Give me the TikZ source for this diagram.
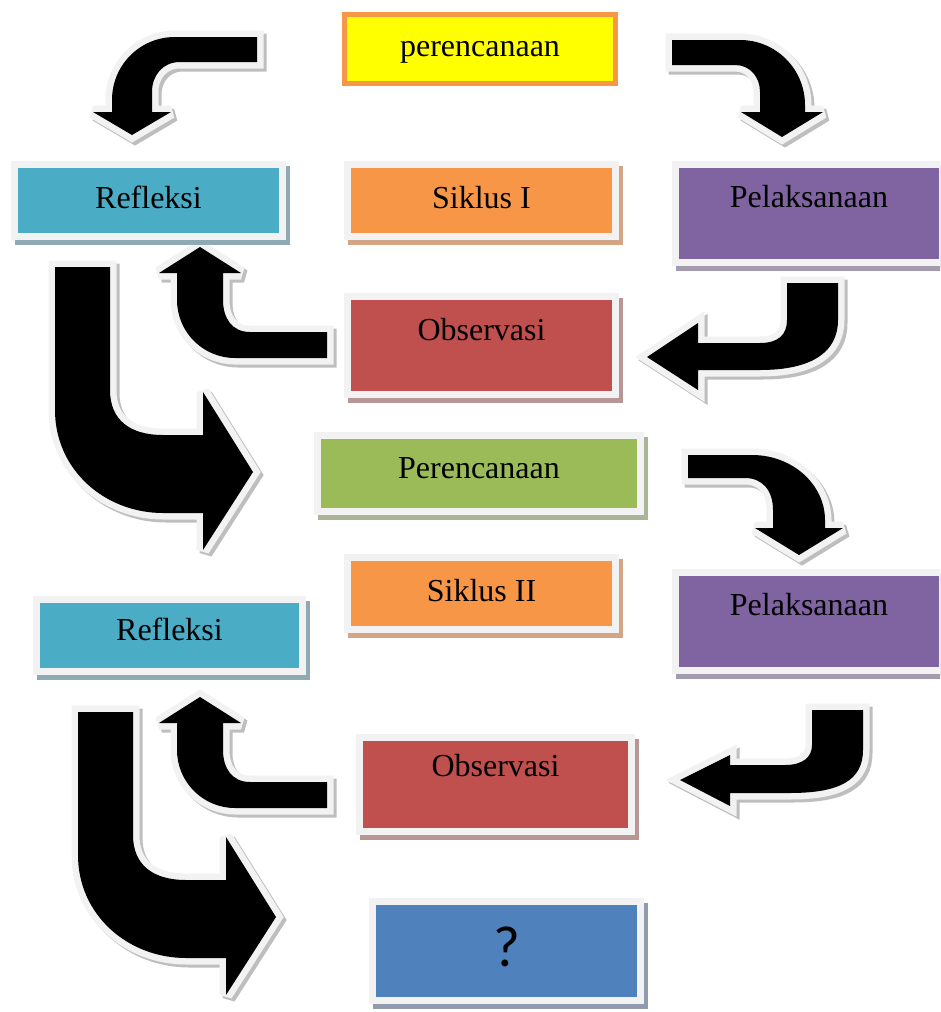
\documentclass[tikz,border=0pt]{standalone}
\usepackage{fontspec}
\setmainfont{Liberation Serif}
\newfontfamily\qfont{Carlito}
\usepackage{xcolor}
\usepackage{tikz}
\usetikzlibrary{positioning}
\definecolor{rimgray}{RGB}{242,242,242}
\definecolor{arrowshade}{RGB}{190,190,190}
\definecolor{yellowfill}{RGB}{255,255,0}
\definecolor{orangerim}{RGB}{247,150,70}
\definecolor{reflcolor}{RGB}{75,172,198}
\definecolor{reflshadow}{RGB}{143,170,180}
\definecolor{cyclecolor}{RGB}{247,150,70}
\definecolor{cycleshadow}{RGB}{212,165,132}
\definecolor{actcolor}{RGB}{128,100,162}
\definecolor{actshadow}{RGB}{165,155,175}
\definecolor{obscolor}{RGB}{192,80,77}
\definecolor{obsshadow}{RGB}{185,150,150}
\definecolor{plancolor}{RGB}{155,187,89}
\definecolor{planshadow}{RGB}{170,180,150}
\definecolor{resultcolor}{RGB}{79,129,189}
\definecolor{resultshadow}{RGB}{145,155,175}
% block arrow: shadow, rim, black body
\newcommand{\flowarrow}[2][]{%
  \filldraw[arrowshadow, shift={(3,3)}, #1] #2;
  \filldraw[arrowrim, #1] #2;
  \fill[black, #1] #2;
}

\begin{document}
\begin{tikzpicture}[
    x=1pt, y=-1pt,
    stage/.style={draw=rimgray, line width=7pt, inner sep=0pt, outer sep=0pt, minimum width=268pt, minimum height=72pt, text height=22pt, text depth=7pt, font=\fontsize{32pt}{38pt}\selectfont},
    boxshadow/.style={preaction={fill=#1, draw=#1, line width=7pt, transform canvas={xshift=4pt, yshift=-5pt}}},
    arrowshadow/.style={fill=arrowshade, draw=arrowshade, line width=13pt, miter limit=2.5},
    arrowrim/.style={fill=rimgray, draw=rimgray, line width=13pt, miter limit=2.5}
]
    \useasboundingbox (0,0) rectangle (940,1012);
    \clip (0,0) rectangle (940,1012);

    % Arrows, cycle I
    \flowarrow{(257,37) -- (175,37) .. controls (140,37) and (112,65) .. (112,100) -- (112,112) -- (93,112) -- (132,135) -- (171,112) -- (152,112) -- (152,92) .. controls (152,75) and (163,62) .. (180,62) -- (257,62) -- cycle}
    \flowarrow{(672,40) -- (740,40) .. controls (776,40) and (805,69) .. (805,105) -- (805,112) -- (823,112) -- (782,137) -- (741,112) -- (760,112) -- (760,92) .. controls (760,77) and (750,65) .. (735,65) -- (672,65) -- cycle}
    \flowarrow{(327,358) -- (235,358) .. controls (203,358) and (177,332) .. (177,300) -- (177,273) -- (159,273) -- (200,247) -- (241,273) -- (223,273) -- (223,300) .. controls (223,318) and (232,332) .. (250,332) -- (327,332) -- cycle}
    \flowarrow{(838,283) -- (838,320) .. controls (838,352) and (812,370) .. (760,370) -- (698,370) -- (698,390) -- (647,357) -- (698,323) -- (698,343) -- (760,343) .. controls (778,343) and (787,335) .. (787,320) -- (787,283) -- cycle}
    \flowarrow{(55,267) -- (55,410) .. controls (55,470) and (105,513) .. (163,513) -- (203,513) -- (203,550) -- (253,472) -- (203,392) -- (203,435) -- (163,435) .. controls (130,435) and (110,420) .. (110,390) -- (110,267) -- cycle}

    % Arrows, cycle II
    \flowarrow{(688,455) -- (752,455) .. controls (793,455) and (825,485) .. (825,520) -- (825,528) -- (843,528) -- (799,555) -- (755,528) -- (773,528) -- (773,510) .. controls (773,490) and (762,478) .. (745,478) -- (688,478) -- cycle}
    \flowarrow{(863,710) -- (863,750) .. controls (863,780) and (840,793) .. (790,793) -- (730,793) -- (730,806) -- (680,780) -- (730,755) -- (730,765) -- (785,765) .. controls (803,765) and (812,757) .. (812,745) -- (812,710) -- cycle}
    \flowarrow[shift={(0,450)}]{(327,358) -- (235,358) .. controls (203,358) and (177,332) .. (177,300) -- (177,273) -- (159,273) -- (200,247) -- (241,273) -- (223,273) -- (223,300) .. controls (223,318) and (232,332) .. (250,332) -- (327,332) -- cycle}
    \flowarrow[shift={(23,445)}]{(55,267) -- (55,410) .. controls (55,470) and (105,513) .. (163,513) -- (203,513) -- (203,550) -- (253,472) -- (203,392) -- (203,435) -- (163,435) .. controls (130,435) and (110,420) .. (110,390) -- (110,267) -- cycle}

    % Boxes, cycle I
    \node[stage, fill=yellowfill, draw=orangerim, line width=5pt, minimum width=271pt, minimum height=69pt] (plan1) at (480,49) {perencanaan};
    \node[stage, fill=reflcolor, boxshadow=reflshadow] (refl1) at (148.5,200.5) {Refleksi};
    \node[stage, fill=cyclecolor, boxshadow=cycleshadow] (cycle1) at (481.5,200.5) {Siklus I};
    \node[stage, fill=actcolor, boxshadow=actshadow, minimum width=267pt, minimum height=98pt, text depth=35pt] (act1) at (809,213.5) {Pelaksanaan};
    \node[stage, fill=obscolor, boxshadow=obsshadow, minimum height=98pt, text depth=33pt] (obs1) at (481.5,345.5) {Observasi};

    % Boxes, cycle II
    \node[stage, fill=plancolor, boxshadow=planshadow, minimum width=323pt, minimum height=76pt, text depth=13pt] (plan2) at (479,473.5) {Perencanaan};
    \node[stage, fill=cyclecolor, boxshadow=cycleshadow] (cycle2) at (481.5,593.5) {Siklus II};
    \node[stage, fill=reflcolor, boxshadow=reflshadow, minimum width=266pt, text depth=13pt] (refl2) at (169.5,635.5) {Refleksi};
    \node[stage, fill=actcolor, boxshadow=actshadow, minimum width=267pt, minimum height=98pt, text depth=35pt] (act2) at (809,621.5) {Pelaksanaan};
    \node[stage, fill=obscolor, boxshadow=obsshadow, minimum width=272pt, minimum height=94pt, text depth=39pt] (obs2) at (495.5,784.5) {Observasi};
    \node[stage, fill=resultcolor, boxshadow=resultshadow, minimum height=99pt, text height=38pt, text depth=8pt, font=\qfont\fontsize{58pt}{66pt}\selectfont] (next) at (506.5,951) {?};
\end{tikzpicture}
\end{document}
